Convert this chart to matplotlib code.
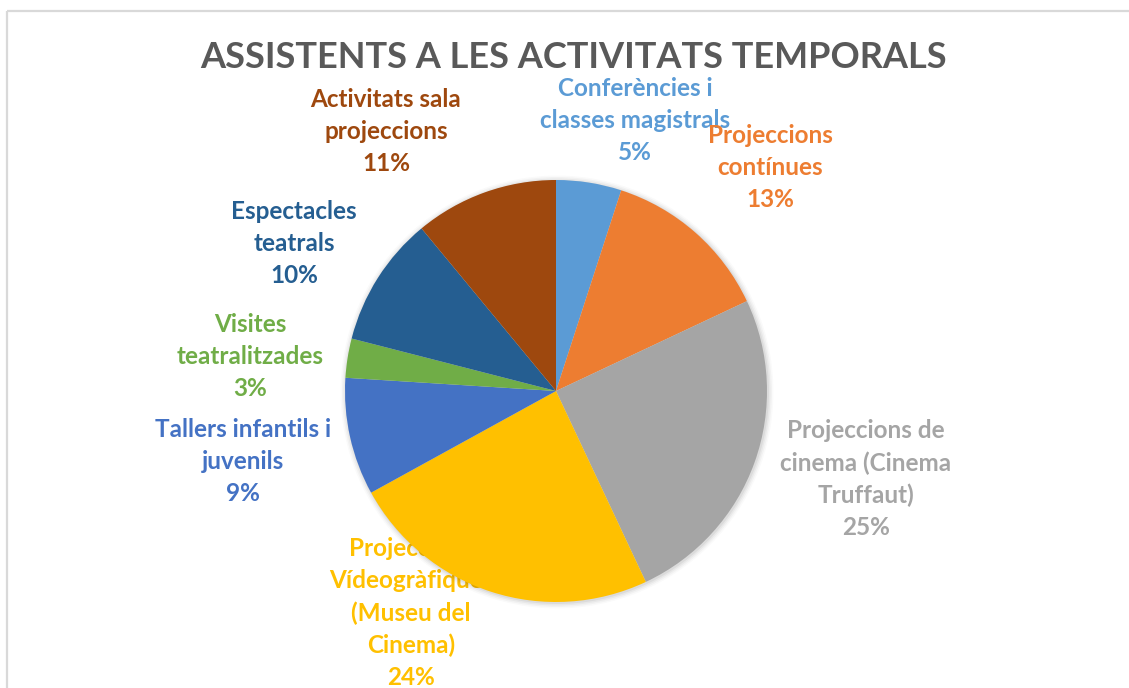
import matplotlib
matplotlib.use("Agg")
import matplotlib.pyplot as plt
from matplotlib.patches import Circle

# ── data ───────────────────────────────────────────────────────────────────────
LABELS = [
    "Conferències i\nclasses magistrals",
    "Projeccions\ncontínues",
    "Projeccions de\ncinema (Cinema\nTruffaut)",
    "Projeccions\nVídeogràfiques\n(Museu del\nCinema)",
    "Tallers infantils i\njuvenils",
    "Visites\nteatralitzades",
    "Espectacles\nteatrals",
    "Activitats sala\nprojeccions",
]
SHARES = [5, 13, 25, 24, 9, 3, 10, 11]
COLORS = ["#5B9BD5", "#ED7D31", "#A5A5A5", "#FFC000",
          "#4472C4", "#70AD47", "#255E91", "#9E480E"]
TITLE = "ASSISTENTS A LES ACTIVITATS TEMPORALS"

# label centres in pixels (x, y of first line from top)
LABEL_POS = [(635, 90), (770, 137), (866, 432), (411, 550),
             (243, 431), (250, 326), (294, 213), (386, 101)]

W, H = 1129, 688
FONT = "Lato"

fig = plt.figure(figsize=(W / 100, H / 100), dpi=100)
ax = fig.add_axes([0, 0, 1, 1])
ax.set_xlim(0, W)
ax.set_ylim(0, H)
ax.set_aspect("equal")
ax.axis("off")

# chart frame (top and left edge visible)
ax.plot([7, W], [H - 11, H - 11], color="#D9D9D9", lw=1.6, solid_capstyle="butt")
ax.plot([7, 7], [0, H - 11], color="#D9D9D9", lw=1.6, solid_capstyle="butt")

ax.text(574, H - 58, TITLE, ha="center", va="center", fontsize=26,
        fontweight="bold", color="#595959", family=FONT)

cx, cy, r = 556, H - 391, 211

# data labels (drawn under the pie, as in the original)
for lab, val, col, (lx, ly) in zip(LABELS, SHARES, COLORS, LABEL_POS):
    ax.text(lx, H - ly + 13, f"{lab}\n{val}%", ha="center", va="top",
            fontsize=17.5, fontweight="bold", color=col, family=FONT,
            linespacing=1.47, zorder=1)

# soft shadow
for i, a in enumerate([0.05, 0.04, 0.03, 0.02]):
    ax.add_patch(Circle((cx + 1, cy - 1), r + 1 + i * 1.5, color="black",
                        alpha=a, lw=0, zorder=2))

ax.pie(SHARES, colors=COLORS, startangle=90, counterclock=False,
       center=(cx, cy), radius=r, frame=True,
       wedgeprops=dict(linewidth=0, zorder=3))
ax.set_xlim(0, W)
ax.set_ylim(0, H)
ax.axis("off")

fig.savefig("out.png", dpi=100, facecolor="white")
